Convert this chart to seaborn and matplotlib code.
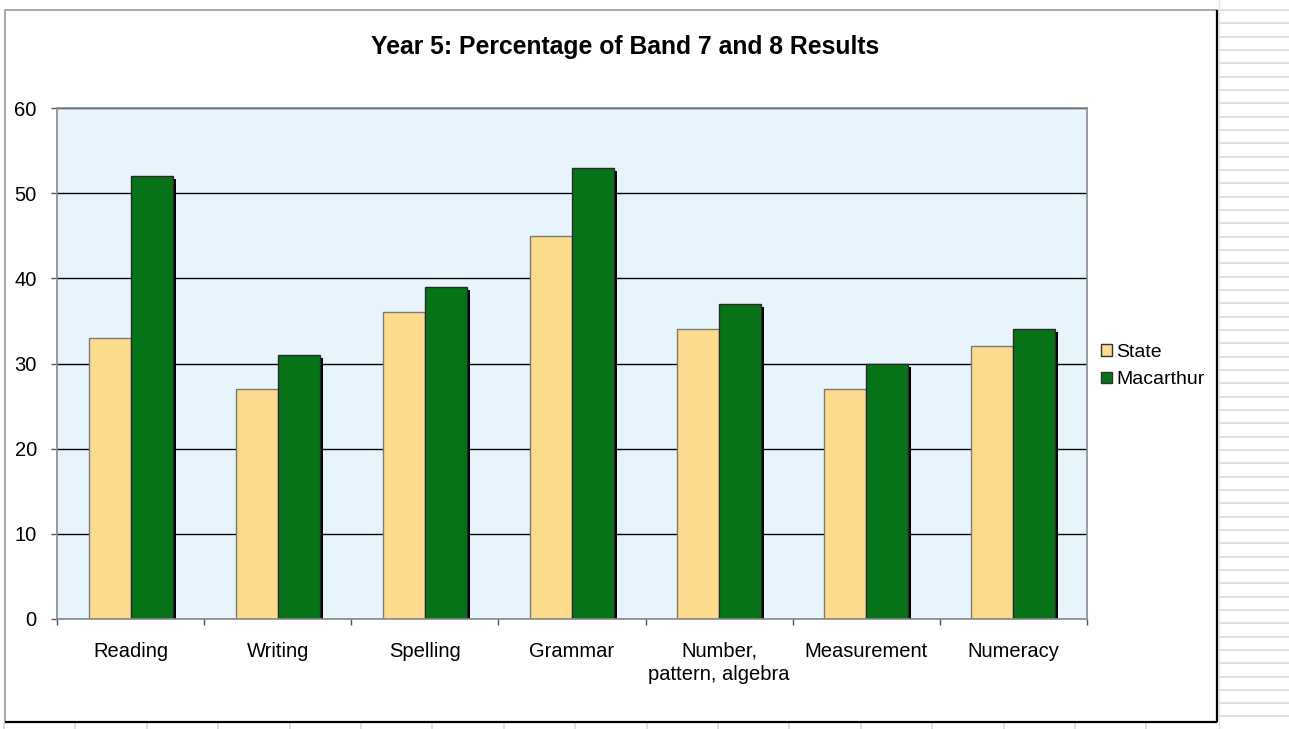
import matplotlib
matplotlib.use("Agg")
import matplotlib.pyplot as plt
import matplotlib.patheffects as pe
from matplotlib.lines import Line2D
from matplotlib.patches import Rectangle, Patch
import seaborn as sns
import pandas as pd

# Chart data
subjects = ["Reading", "Writing", "Spelling", "Grammar",
            "Number,\npattern, algebra", "Measurement", "Numeracy"]
state = [33, 27, 36, 45, 34, 27, 32]
macarthur = [52, 31, 39, 53, 37, 30, 34]
series = ["State", "Macarthur"]
y_ticks = [0, 10, 20, 30, 40, 50, 60]
title = "Year 5: Percentage of Band 7 and 8 Results"

colors = {"State": "#FCDC8C", "Macarthur": "#077318"}
edges = {"State": "#7a7a7a", "Macarthur": "#2a2a2a"}

df = pd.DataFrame({
    "Subject": subjects * 2,
    "Series": [series[0]] * len(subjects) + [series[1]] * len(subjects),
    "Percent": state + macarthur,
})

sns.set_theme(style="white")
plt.rcParams["font.family"] = ["Liberation Sans", "DejaVu Sans"]

W, H = 1289, 729
fig = plt.figure(figsize=(W / 100, H / 100), dpi=100)
fig.patch.set_facecolor("white")

# Worksheet grid lines around the embedded chart
for k in range(60):
    y = 10 + 13.33 * k
    if y > H:
        break
    fig.add_artist(Line2D([1219 / W, 1.0], [1 - y / H, 1 - y / H],
                          transform=fig.transFigure, color="#dadada",
                          lw=1.2, zorder=-3))
for k in range(20):
    x = 4 + 71.4 * k
    if x > 1217:
        break
    fig.add_artist(Line2D([x / W, x / W], [0, 1 - 723 / H],
                          transform=fig.transFigure, color="#dadada",
                          lw=1.2, zorder=-3))
fig.add_artist(Line2D([1219 / W, 1219 / W], [0, 1],
                      transform=fig.transFigure, color="#e6e6e6", lw=1.0,
                      zorder=-3))

# Chart area frame
fig.add_artist(Rectangle((5 / W, 1 - 722 / H), 1212 / W, 712 / H,
                         transform=fig.transFigure, facecolor="white",
                         edgecolor="#9a9a9a", lw=1.2, zorder=-2))
fig.add_artist(Line2D([1217 / W, 1217 / W], [1 - 722 / H, 1 - 10 / H],
                      transform=fig.transFigure, color="black", lw=1.6,
                      solid_capstyle="butt", zorder=-1))
fig.add_artist(Line2D([5 / W, 1217 / W], [1 - 722 / H, 1 - 722 / H],
                      transform=fig.transFigure, color="black", lw=1.6,
                      solid_capstyle="butt", zorder=-1))

ax = fig.add_axes([57 / W, 1 - 619 / H, 1030 / W, 511 / H])
ax.set_facecolor("#E8F4FC")

sns.barplot(data=df, x="Subject", y="Percent", hue="Series",
            hue_order=series, palette=colors, width=0.57, gap=0,
            saturation=1, legend=False, ax=ax)

shadow = [pe.SimplePatchShadow(offset=(2.2, -2.2), shadow_rgbFace="black",
                               alpha=1.0), pe.Normal()]
for name, cont in zip(series, ax.containers):
    for bar in cont:
        bar.set_edgecolor(edges[name])
        bar.set_linewidth(1.0)
        bar.set_path_effects(shadow)

ax.set_ylim(0, 60)
ax.set_xlim(-0.5, len(subjects) - 0.5)
ax.set_yticks(y_ticks)
ax.yaxis.grid(True, color="black", lw=1.0)
ax.xaxis.grid(False)
ax.set_axisbelow(True)

for s in ax.spines.values():
    s.set_color("#8a8a8a")
    s.set_linewidth(1.2)

ax.set_xticks(range(len(subjects)))
ax.set_xticklabels(subjects, fontsize=14.5, color="black", linespacing=1.3)
ax.set_xticks([i - 0.5 for i in range(len(subjects) + 1)], minor=True)
ax.tick_params(axis="x", which="major", length=0, pad=16.5)
ax.tick_params(axis="x", which="minor", length=4.5, width=1.0,
               color="#555555", direction="out", bottom=True)
ax.tick_params(axis="y", which="major", length=4.5, width=1.0,
               color="#555555", direction="out", left=True, pad=10,
               labelsize=14.5, labelcolor="black")
ax.set_xlabel("")
ax.set_ylabel("")

fig.text(625 / W, 1 - 47 / H, title, ha="center", va="center",
         fontsize=17.8, fontweight="bold", color="black")

handles = [Patch(facecolor=colors[n], edgecolor="#333333", lw=1.0) for n in series]
fig.legend(handles, series, loc="center left",
           bbox_to_anchor=(1097 / W, 1 - 366 / H), frameon=False,
           fontsize=14, labelcolor="black", handlelength=0.55,
           handleheight=0.55, handletextpad=0.25, labelspacing=0.55,
           borderpad=0.2, borderaxespad=0)

fig.savefig("out.png", dpi=100, facecolor="white")
